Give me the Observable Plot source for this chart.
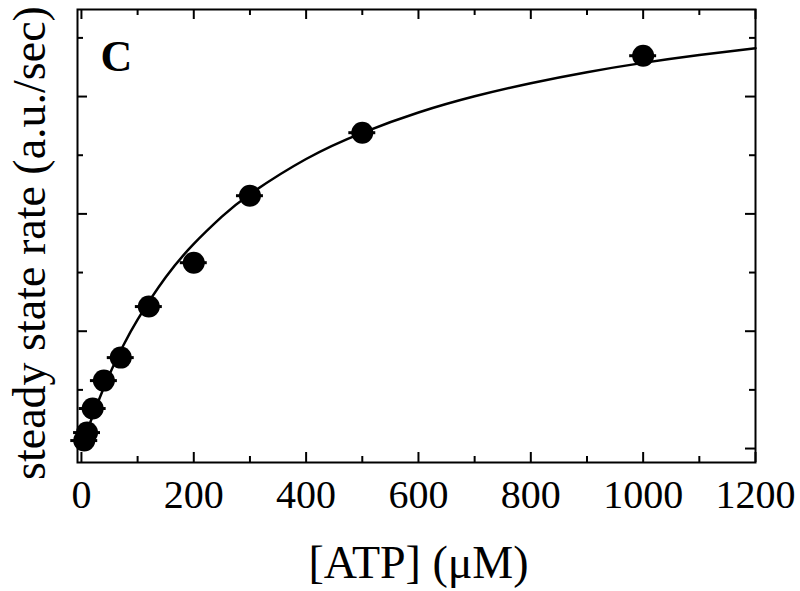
<!DOCTYPE html>
<html><head><meta charset="utf-8">
<script src="https://cdn.jsdelivr.net/npm/d3@7"></script>
<script src="https://cdn.jsdelivr.net/npm/@observablehq/plot@0.6"></script>
<style>
body{margin:0;background:#fff}
svg{display:block}
</style>
</head><body><div id="chart"></div>
<script>
// measured data points
const atp  = [5, 10, 20, 40, 70, 120, 200, 300, 500, 1000];
const rate = [0.068, 0.136, 0.341, 0.579, 0.775, 1.21, 1.584, 2.155, 2.692, 3.348];
const atpErr = [24, 24, 24, 24, 24, 24, 24, 24, 24, 24];
// fitted curve
const fitAtp  = [0, 10, 25, 50, 75, 100, 150, 200, 250, 300, 400, 500, 600, 700, 800, 900, 1000, 1100, 1200];
const fitRate = [0, 0.144, 0.341, 0.632, 0.882, 1.099, 1.459, 1.744, 1.976, 2.168, 2.468, 2.691, 2.864, 3.002, 3.114, 3.208, 3.287, 3.354, 3.412];
// ticks
const xMajor = [0, 200, 400, 600, 800, 1000, 1200];
const xMinor = [100, 300, 500, 700, 900, 1100];
const yMajor = [0, 1, 2, 3];
const yMinor = [0.5, 1.5, 2.5, 3.5];
const panelLabel = "C";
const xLabel = "[ATP] (μM)";
const yLabel = "steady state rate (a.u./sec)";

const points = atp.map((a, i) => ({atp: a, rate: rate[i], err: atpErr[i]}));
const fit = fitAtp.map((a, i) => ({atp: a, rate: fitRate[i]}));

const W = 800, H = 591, mL = 77, mR = 45, mT = 9, mB = 129;
const fw = W - mL - mR, fh = H - mT - mB;
const maj = 10, mnr = 6;
const serif = "Liberation Serif";

const chart = Plot.plot({
  width: W, height: H,
  marginLeft: mL, marginRight: mR, marginTop: mT, marginBottom: mB,
  style: {fontFamily: serif, background: "#fff", color: "#000"},
  x: {domain: [-7, 1200], axis: null},
  y: {domain: [-0.119, 3.742], axis: null},
  marks: [
    Plot.frame({stroke: "#000", strokeWidth: 2}),
    // bottom & top ticks
    Plot.ruleX(xMajor, {stroke: "#000", strokeWidth: 2, insetTop: fh - maj}),
    Plot.ruleX(xMinor, {stroke: "#000", strokeWidth: 2, insetTop: fh - mnr}),
    Plot.ruleX(xMajor, {stroke: "#000", strokeWidth: 2, insetBottom: fh - maj}),
    Plot.ruleX(xMinor, {stroke: "#000", strokeWidth: 2, insetBottom: fh - mnr}),
    // left & right ticks
    Plot.ruleY(yMajor, {stroke: "#000", strokeWidth: 2, insetRight: fw - maj}),
    Plot.ruleY(yMinor, {stroke: "#000", strokeWidth: 2, insetRight: fw - mnr}),
    Plot.ruleY(yMajor, {stroke: "#000", strokeWidth: 2, insetLeft: fw - maj}),
    Plot.ruleY(yMinor, {stroke: "#000", strokeWidth: 2, insetLeft: fw - mnr}),
    Plot.axisX({ticks: xMajor, tickSize: 0, tickPadding: 17, fontSize: 40, fontFamily: serif, label: null, tickFormat: d => String(d)}),
    Plot.line(fit, {x: "atp", y: "rate", stroke: "#000", strokeWidth: 2.5, curve: "natural"}),
    Plot.ruleY(points, {y: "rate", x1: d => d.atp - d.err, x2: d => d.atp + d.err, stroke: "#000", strokeWidth: 3}),
    Plot.dot(points, {x: "atp", y: "rate", r: 11, fill: "#000", stroke: "none"}),
    Plot.text([panelLabel], {frameAnchor: "top-left", dx: 23, dy: 61, lineAnchor: "bottom", textAnchor: "start", fontSize: 44, fontWeight: "bold", fontFamily: serif, fill: "#000"}),
    Plot.text([xLabel], {frameAnchor: "bottom", dx: 2, dy: 115, lineAnchor: "bottom", textAnchor: "middle", fontSize: 46, fontFamily: serif, fill: "#000"}),
    Plot.text([yLabel], {frameAnchor: "left", rotate: -90, dx: -33, dy: 7, lineAnchor: "bottom", textAnchor: "middle", fontSize: 46, fontFamily: serif, fill: "#000"})
  ]
});
document.getElementById("chart").appendChild(chart);
</script>
</body></html>
